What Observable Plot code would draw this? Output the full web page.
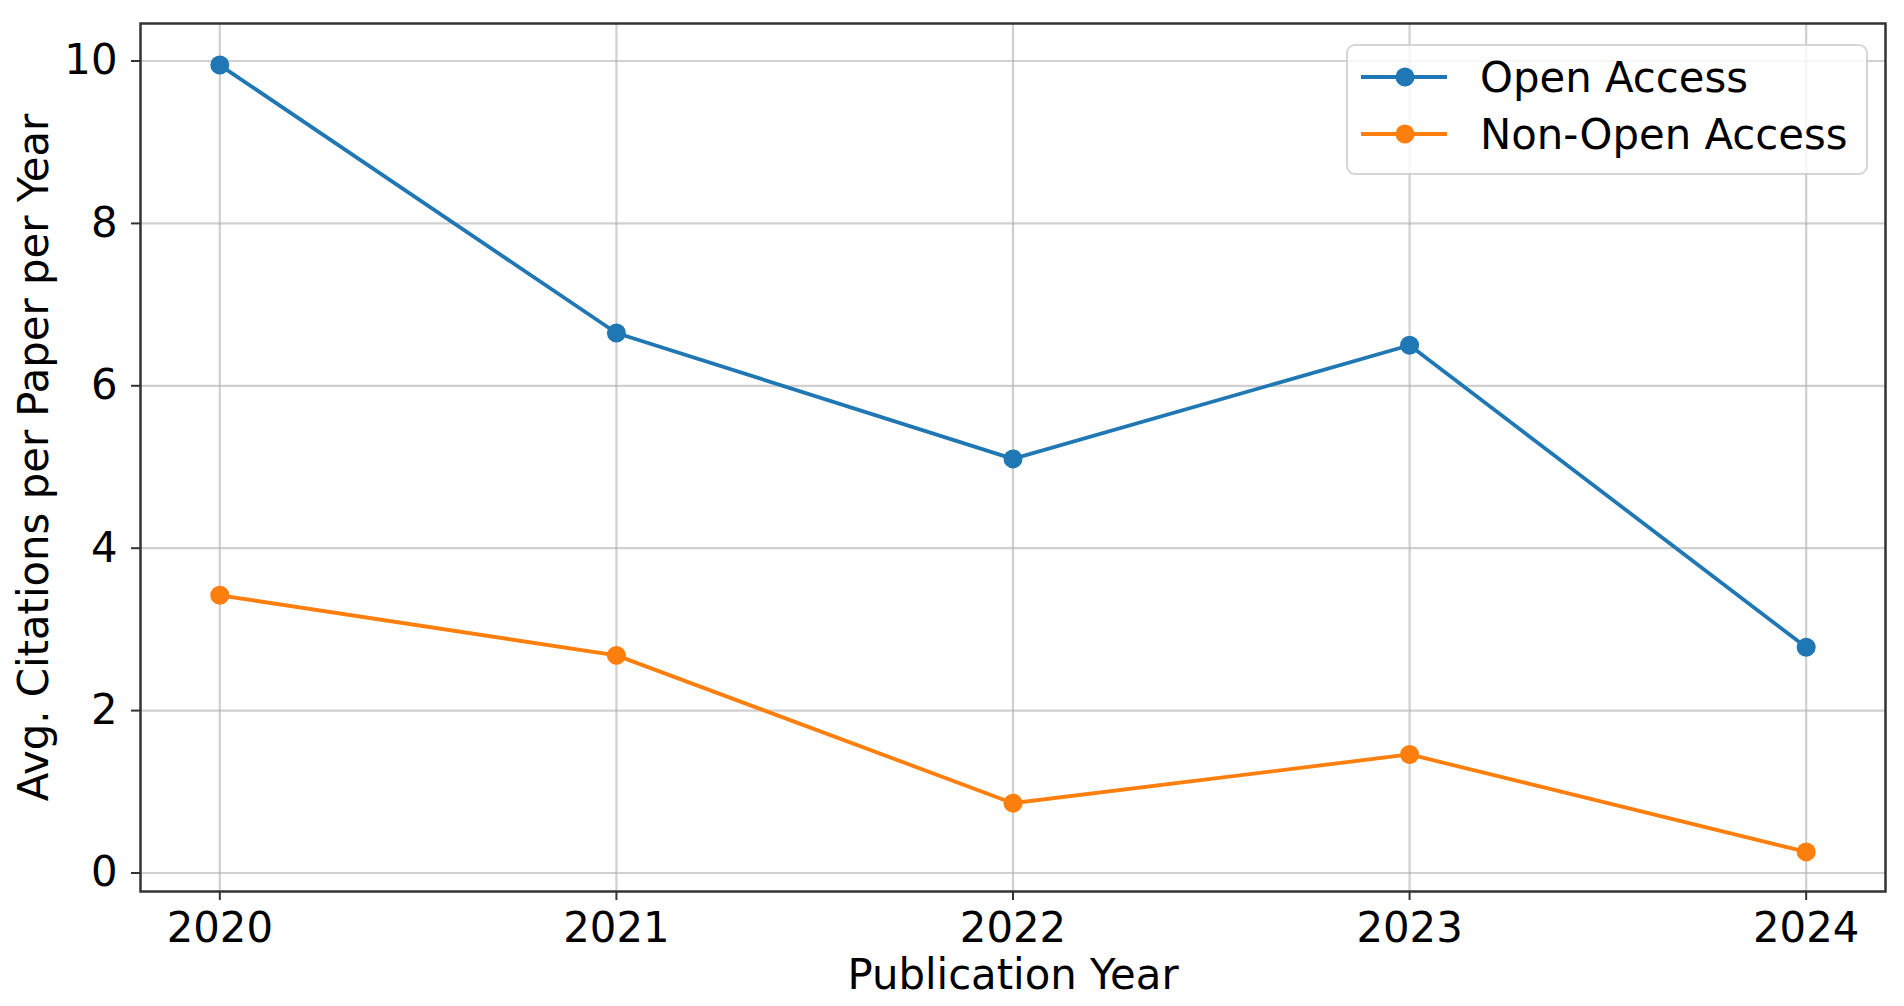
<!DOCTYPE html>
<html>
<head>
<meta charset="utf-8">
<script src="https://cdn.jsdelivr.net/npm/d3@7"></script>
<script src="https://cdn.jsdelivr.net/npm/@observablehq/plot@0.6"></script>
<style>
  html, body { margin: 0; padding: 0; background: white; }
  #chart svg { display: block; }
</style>
</head>
<body>
<div id="chart"></div>
<script>
const years = [2020, 2021, 2022, 2023, 2024];
const openAccess = [9.95, 6.65, 5.10, 6.50, 2.78];
const nonOpenAccess = [3.42, 2.68, 0.86, 1.46, 0.26];
const seriesNames = ["Open Access", "Non-Open Access"];
const seriesColors = ["#1f77b4", "#ff7f0e"];
const yTicks = [0, 2, 4, 6, 8, 10];
const xLabel = "Publication Year";
const yLabel = "Avg. Citations per Paper per Year";

const data = years.flatMap((yr, i) => [
  {year: yr, value: openAccess[i], series: seriesNames[0]},
  {year: yr, value: nonOpenAccess[i], series: seriesNames[1]}
]);

const W = 1904, H = 1006;
const mL = 140, mR = 19, mT = 23, mB = 115;
const font = "DejaVu Sans";
const fs = 41.8;

const chart = Plot.plot({
  width: W, height: H,
  marginLeft: mL, marginRight: mR, marginTop: mT, marginBottom: mB,
  x: {domain: [2019.80, 2024.20]},
  y: {domain: [-0.228, 10.462]},
  color: {domain: seriesNames, range: seriesColors},
  style: {fontFamily: font, fontSize: fs + "px", background: "white", color: "#000"},
  marks: [
    Plot.gridX(years, {stroke: "#b0b0b0", strokeOpacity: 0.6, strokeWidth: 2.2}),
    Plot.gridY(yTicks, {stroke: "#b0b0b0", strokeOpacity: 0.6, strokeWidth: 2.2}),
    Plot.line(data, {x: "year", y: "value", z: "series", stroke: "series", strokeWidth: 3.8}),
    Plot.dot(data, {x: "year", y: "value", fill: "series", r: 9.5}),
    Plot.frame({stroke: "#333", strokeWidth: 2.5, strokeOpacity: 1}),
    Plot.axisX(years, {tickFormat: d => String(d), tickSize: 9, tickPadding: 12, label: null, stroke: "#333", strokeWidth: 2, fill: "#000", fontSize: fs}),
    Plot.axisY(yTicks, {tickFormat: d => String(d), tickSize: 9, tickPadding: 14, label: null, stroke: "#333", strokeWidth: 2, fill: "#000", fontSize: fs}),
    Plot.text([xLabel], {text: d => d, frameAnchor: "bottom", dy: 84, lineAnchor: "middle", textAnchor: "middle", fontSize: fs, fill: "#000"}),
    Plot.text([yLabel], {text: d => d, frameAnchor: "left", dx: -106, rotate: -90, lineAnchor: "middle", textAnchor: "middle", fontSize: fs, fill: "#000"})
  ]
});

document.getElementById("chart").appendChild(chart);

// Legend (inside plot area, upper right)
const svg = d3.select(chart);
const lg = svg.append("g").attr("font-family", font).attr("font-size", fs).attr("text-anchor", "start");
lg.append("rect")
  .attr("x", 1347).attr("y", 45).attr("width", 520).attr("height", 129)
  .attr("rx", 8).attr("ry", 8)
  .attr("fill", "white").attr("fill-opacity", 0.8)
  .attr("stroke", "#cccccc").attr("stroke-opacity", 0.8).attr("stroke-width", 2);
seriesNames.forEach((name, i) => {
  const cy = 77 + i * 57;
  lg.append("line").attr("x1", 1361).attr("x2", 1447).attr("y1", cy).attr("y2", cy)
    .attr("stroke", seriesColors[i]).attr("stroke-width", 3.8);
  lg.append("circle").attr("cx", 1405).attr("cy", cy).attr("r", 9.5).attr("fill", seriesColors[i]);
  lg.append("text").attr("x", 1480).attr("y", cy + 15).attr("fill", "#000").attr("text-anchor", "start").text(name);
});
</script>
</body>
</html>
